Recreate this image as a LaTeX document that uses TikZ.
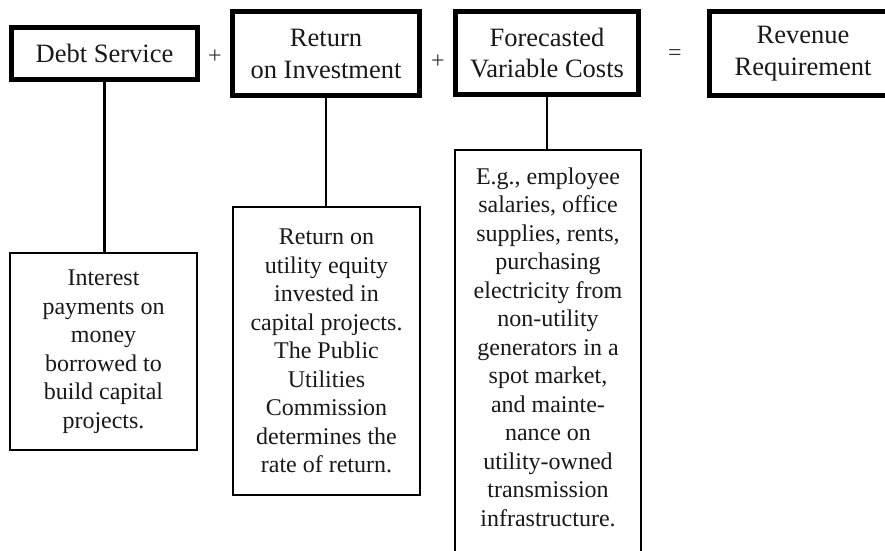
\documentclass[tikz,border=0pt]{standalone}
\usepackage{fontspec}
\setmainfont{Liberation Serif}
\begin{document}
\begin{tikzpicture}[x=1pt,y=-1pt,
  topbox/.style={draw=black, line width=5pt, inner sep=0pt, align=center,
    font=\fontsize{26.5}{32}\selectfont, text=black!90},
  subbox/.style={draw=black, line width=2pt, inner sep=0pt, align=center,
    font=\fontsize{24}{28.5}\selectfont, text=black!90},
  subtext/.style={inner sep=0pt, align=center, font=\fontsize{24}{28.5}\selectfont, text=black!90},
  opsign/.style={inner sep=0pt, font=\fontsize{24}{28}\selectfont, text=black!80},
  conn/.style={draw=black, line width=2.5pt}]
\useasboundingbox (0,0) rectangle (885,550);
\clip (0,0) rectangle (885,550);
\fill[white] (0,0) rectangle (885,550);

% top boxes
\node[topbox, minimum width=186pt, minimum height=52pt] (d) at (104.5,53.5) {Debt Service};
\node[topbox, minimum width=187pt, minimum height=84pt] (r) at (326,53.5) {Return\\on Investment};
\node[topbox, minimum width=183pt, minimum height=83pt] (f) at (547,53) {Forecasted\\Variable Costs};
\node[topbox, minimum width=187pt, minimum height=84pt] (rr) at (803,53.5) {Revenue\\Requirement};

% operators
\node[opsign] (p1) at (215,57) {+};
\node[opsign] (p2) at (438,62) {+};
\node[opsign] (eq) at (675,55) {=};

% bottom boxes
\node[subbox, minimum width=187pt, minimum height=197pt] (db) at (103.5,351.5)
  {Interest\\payments on\\money\\borrowed to\\build capital\\projects.};
\node[subbox, minimum width=187pt, minimum height=288pt] (rb) at (326.5,351)
  {Return on\\utility equity\\invested in\\capital projects.\\The Public\\Utilities\\Commission\\determines the\\rate of return.};
\node[subbox, minimum width=186pt, minimum height=460pt, anchor=north] (fb) at (548,149) {};
\node[subtext] (ft) at (548,347)
  {E.g., employee\\salaries, office\\supplies, rents,\\purchasing\\electricity from\\non-utility\\generators in a\\spot market,\\and mainte-\\nance on\\utility-owned\\transmission\\infrastructure.};

% connectors
\draw[conn] (d.south) -- (d.south |- db.north);
\draw[conn] (r.south) -- (r.south |- rb.north);
\draw[conn] (f.south) -- (f.south |- fb.north);
\end{tikzpicture}
\end{document}
